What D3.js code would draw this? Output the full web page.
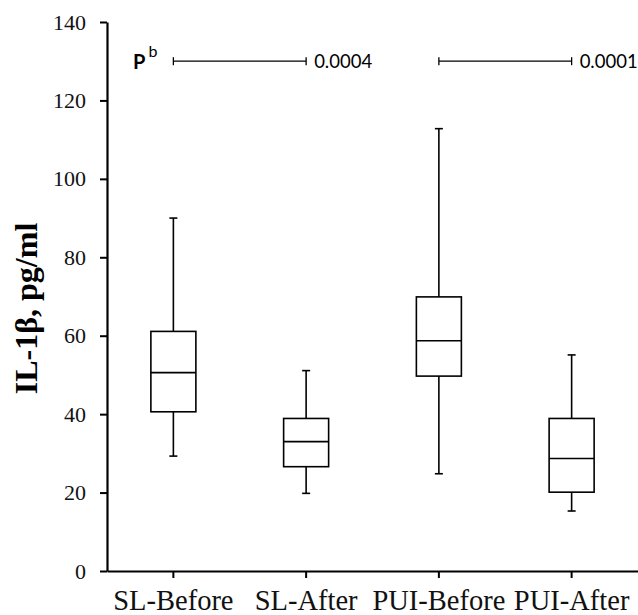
<!DOCTYPE html>
<html>
<head>
<meta charset="utf-8">
<script src="https://cdn.jsdelivr.net/npm/d3@7"></script>
<style>
  html, body { margin: 0; padding: 0; background: #fff; }
</style>
</head>
<body>
<div id="chart"></div>
<script>
// box plot values
const groups = ['SL-Before', 'SL-After', 'PUI-Before', 'PUI-After'];
const mins = [29.3, 19.8, 24.8, 15.3];
const q1s = [40.6, 26.6, 49.7, 20.1];
const medians = [50.6, 33.0, 58.7, 28.7];
const q3s = [61.1, 38.9, 69.9, 38.9];
const maxs = [90.0, 51.1, 112.8, 55.1];
const yTicks = [0, 20, 40, 60, 80, 100, 120, 140];

// significance brackets
const brackets = [
  { from: 'SL-Before', to: 'SL-After', y: 130, label: '0.0004' },
  { from: 'PUI-Before', to: 'PUI-After', y: 130, label: '0.0001' }
];

const width = 638, height = 615;
const margin = { top: 22, right: 0, bottom: 44, left: 107 };

const svg = d3.select('#chart').append('svg')
  .attr('width', width)
  .attr('height', height);

const x = d3.scaleBand()
  .domain(groups)
  .range([margin.left, width - margin.right])
  .paddingInner(0.66)
  .paddingOuter(0.33);

const y = d3.scaleLinear()
  .domain([0, 140])
  .range([height - margin.bottom, margin.top]);

const serif = '"Liberation Serif", "Times New Roman", serif';

// y axis
const yAxis = svg.append('g')
  .attr('transform', `translate(${margin.left},0)`)
  .call(d3.axisLeft(y).tickValues(yTicks).tickSize(7).tickSizeOuter(0).tickPadding(14));
yAxis.select('.domain').attr('stroke', '#000').attr('stroke-width', 2.2);
yAxis.selectAll('.tick line').attr('stroke', '#000').attr('stroke-width', 2);
yAxis.selectAll('.tick text')
  .style('font-family', serif)
  .style('font-size', '22px')
  .attr('fill', '#111');

// x axis
const xAxis = svg.append('g')
  .attr('transform', `translate(0,${y(0)})`)
  .call(d3.axisBottom(x).tickSize(7).tickSizeOuter(0).tickPadding(12));
xAxis.select('.domain').attr('stroke', '#000').attr('stroke-width', 2.2);
xAxis.selectAll('.tick line').attr('stroke', '#000').attr('stroke-width', 2);
xAxis.selectAll('.tick text')
  .style('font-family', serif)
  .style('font-size', '28.5px')
  .attr('fill', '#111');

// y title
svg.append('text')
  .attr('transform', `translate(37,${(y(0) + y(140)) / 2 + 12}) rotate(-90)`)
  .attr('text-anchor', 'middle')
  .style('font-family', serif)
  .style('font-size', '32px')
  .style('font-weight', 'bold')
  .text('IL-1β, pg/ml');

// boxes
const boxW = 45, capW = 8;
groups.forEach((g, i) => {
  const cx = x(g) + x.bandwidth() / 2;
  const grp = svg.append('g').attr('stroke', '#000').attr('stroke-width', 1.6).attr('fill', 'none');
  // whiskers
  grp.append('line').attr('x1', cx).attr('x2', cx).attr('y1', y(maxs[i])).attr('y2', y(q3s[i]));
  grp.append('line').attr('x1', cx).attr('x2', cx).attr('y1', y(q1s[i])).attr('y2', y(mins[i]));
  grp.append('line').attr('x1', cx - capW / 2).attr('x2', cx + capW / 2).attr('y1', y(maxs[i])).attr('y2', y(maxs[i]));
  grp.append('line').attr('x1', cx - capW / 2).attr('x2', cx + capW / 2).attr('y1', y(mins[i])).attr('y2', y(mins[i]));
  // box
  grp.append('rect')
    .attr('x', cx - boxW / 2)
    .attr('y', y(q3s[i]))
    .attr('width', boxW)
    .attr('height', y(q1s[i]) - y(q3s[i]))
    .attr('fill', '#fff');
  grp.append('line').attr('x1', cx - boxW / 2).attr('x2', cx + boxW / 2).attr('y1', y(medians[i])).attr('y2', y(medians[i]));
});

// brackets
brackets.forEach(b => {
  const x1 = x(b.from) + x.bandwidth() / 2;
  const x2 = x(b.to) + x.bandwidth() / 2;
  const yy = y(b.y);
  const gb = svg.append('g').attr('stroke', '#000').attr('stroke-width', 1.3);
  gb.append('line').attr('x1', x1).attr('x2', x2).attr('y1', yy).attr('y2', yy);
  gb.append('line').attr('x1', x1).attr('x2', x1).attr('y1', yy - 4).attr('y2', yy + 4);
  gb.append('line').attr('x1', x2).attr('x2', x2).attr('y1', yy - 4).attr('y2', yy + 4);
  svg.append('text')
    .attr('x', x2 + 8)
    .attr('y', yy + 7)
    .style('font-family', 'Lato, "Open Sans", sans-serif')
    .style('font-size', '18.5px')
    .text(b.label);
});

// P^b label
const pLabel = svg.append('text')
  .attr('x', 133)
  .attr('y', y(130) + 8)
  .style('font-family', 'Lato, "Open Sans", sans-serif')
  .style('font-size', '20px')
  .style('font-weight', 'bold')
  .text('P');
pLabel.append('tspan')
  .attr('dy', -12)
  .attr('dx', 3)
  .style('font-size', '16px')
  .style('font-weight', 'normal')
  .text('b');
</script>
</body>
</html>
